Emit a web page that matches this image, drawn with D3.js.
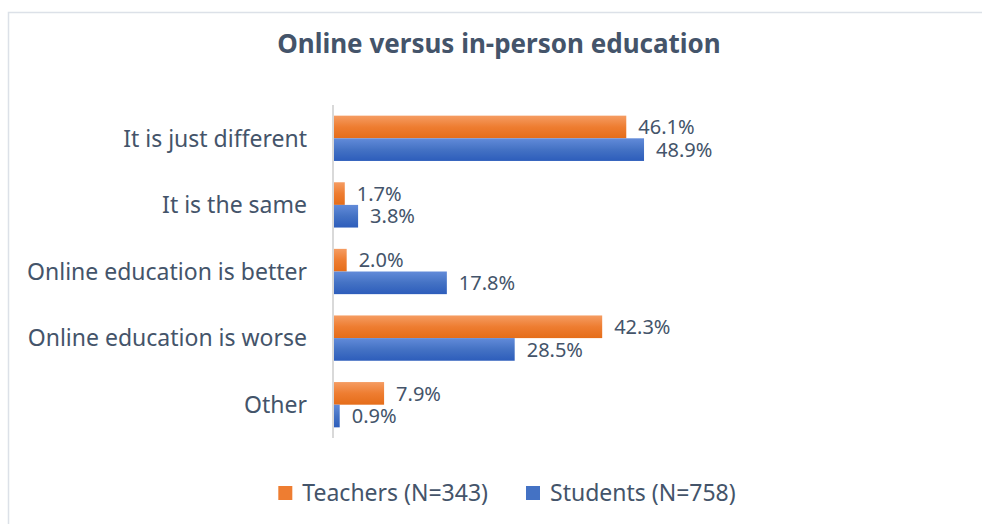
<!DOCTYPE html>
<html>
<head>
<meta charset="utf-8">
<script src="https://cdn.jsdelivr.net/npm/d3@7"></script>
<style>
  html, body { margin: 0; padding: 0; background: #fff; }
  svg { display: block; font-family: "Noto Sans", sans-serif; }
</style>
</head>
<body>
<div id="chart"></div>
<script>
const categories = [
  'It is just different',
  'It is the same',
  'Online education is better',
  'Online education is worse',
  'Other'
];
const teachers = [46.1, 1.7, 2.0, 42.3, 7.9];
const students = [48.9, 3.8, 17.8, 28.5, 0.9];
const seriesNames = ['Teachers (N=343)', 'Students (N=758)'];

const width = 982;
const height = 524;
const textColor = '#44546A';

const svg = d3.select('#chart')
  .append('svg')
  .attr('width', width)
  .attr('height', height);

const defs = svg.append('defs');
const gradients = [
  { id: 'grad-orange', stops: ['#F59C62', '#EE7D31', '#E56D19'] },
  { id: 'grad-blue', stops: ['#628BD9', '#4472C4', '#2D5DBB'] }
];
gradients.forEach(g => {
  const lg = defs.append('linearGradient')
    .attr('id', g.id)
    .attr('x1', 0).attr('y1', 0).attr('x2', 0).attr('y2', 1);
  g.stops.forEach((c, i) => {
    lg.append('stop').attr('offset', `${i * 50}%`).attr('stop-color', c);
  });
});

// chart frame
svg.append('rect')
  .attr('x', 8.5).attr('y', 12.5)
  .attr('width', 1000).attr('height', 600)
  .attr('fill', '#fff')
  .attr('stroke', '#DCE1E8')
  .attr('stroke-width', 1.5);

svg.append('text')
  .attr('x', 499)
  .attr('y', 53)
  .attr('text-anchor', 'middle')
  .attr('font-size', 26)
  .attr('font-weight', 'bold')
  .attr('fill', textColor)
  .text('Online versus in-person education');

const y = d3.scaleBand()
  .domain(categories)
  .range([105, 438])
  .paddingInner(0.32)
  .paddingOuter(0.16);

const ySeries = d3.scaleBand()
  .domain(seriesNames)
  .range([0, y.bandwidth()]);

const x = d3.scaleLinear()
  .domain([0, 50])
  .range([334, 651]);

const color = d3.scaleOrdinal()
  .domain(seriesNames)
  .range(['url(#grad-orange)', 'url(#grad-blue)']);

const swatch = d3.scaleOrdinal()
  .domain(seriesNames)
  .range(['#EE7D31', '#4472C4']);

const rows = categories.map((c, i) => ({
  category: c,
  values: [
    { series: seriesNames[0], value: teachers[i] },
    { series: seriesNames[1], value: students[i] }
  ]
}));

const fmt = d => d3.format('.1f')(d) + '%';

const groups = svg.selectAll('.cat')
  .data(rows)
  .enter().append('g')
  .attr('class', 'cat')
  .attr('transform', d => `translate(0, ${y(d.category)})`);

groups.selectAll('rect')
  .data(d => d.values)
  .enter().append('rect')
  .attr('x', x(0))
  .attr('y', d => ySeries(d.series))
  .attr('width', d => x(d.value) - x(0))
  .attr('height', ySeries.bandwidth())
  .attr('fill', d => color(d.series));

groups.selectAll('.val')
  .data(d => d.values)
  .enter().append('text')
  .attr('class', 'val')
  .attr('x', d => x(d.value) + 12)
  .attr('y', d => ySeries(d.series) + ySeries.bandwidth() / 2)
  .attr('dy', '0.36em')
  .attr('font-size', 20)
  .attr('fill', textColor)
  .text(d => fmt(d.value));

// category axis
const yAxis = svg.append('g')
  .attr('transform', `translate(${x(0) - 1}, 0)`)
  .call(d3.axisLeft(y).tickSize(0).tickPadding(26));
yAxis.select('.domain')
  .attr('d', `M0,105V438`)
  .attr('stroke', '#D9D9D9')
  .attr('stroke-width', 2);
yAxis.selectAll('text')
  .attr('font-family', '"Noto Sans", sans-serif')
  .attr('font-size', 23)
  .attr('fill', textColor)
  .attr('dy', '0.36em');

// legend
const legend = svg.append('g');
const items = legend.selectAll('g')
  .data(seriesNames)
  .enter().append('g');
items.append('rect')
  .attr('width', 14).attr('height', 14)
  .attr('y', -7)
  .attr('fill', d => swatch(d));
items.append('text')
  .attr('x', 24)
  .attr('dy', '0.36em')
  .attr('font-size', 23)
  .attr('fill', textColor)
  .text(d => d);

let offset = 0;
const gap = 38;
items.each(function () {
  const w = this.getBBox().width;
  d3.select(this).attr('data-x', offset);
  offset += w + gap;
});
const legendWidth = offset - gap;
items.attr('transform', function () {
  return `translate(${+this.getAttribute('data-x')}, 0)`;
});
legend.attr('transform', `translate(${507 - legendWidth / 2}, 493)`);
</script>
</body>
</html>
